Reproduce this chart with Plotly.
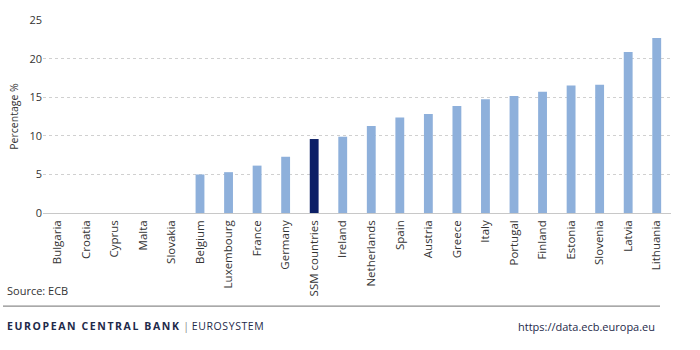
import plotly.graph_objects as go

categories = ["Bulgaria", "Croatia", "Cyprus", "Malta", "Slovakia", "Belgium",
              "Luxembourg", "France", "Germany", "SSM countries", "Ireland",
              "Netherlands", "Spain", "Austria", "Greece", "Italy", "Portugal",
              "Finland", "Estonia", "Slovenia", "Latvia", "Lithuania"]
values = [0, 0, 0, 0, 0, 5.0, 5.3, 6.15, 7.3, 9.6, 9.9,
          11.3, 12.4, 12.85, 13.9, 14.75, 15.2, 15.75, 16.55, 16.65, 20.9, 22.7]
highlight = "SSM countries"

colors = ["#0c1f66" if c == highlight else "#8eb0db" for c in categories]

fig = go.Figure()
fig.add_trace(go.Bar(x=categories, y=values, marker=dict(color=colors, line=dict(width=0)),
                     showlegend=False))

font = "Open Sans, Noto Sans, sans-serif"
fig.update_layout(
    width=700, height=350,
    margin=dict(l=43, r=29, t=14, b=137),
    paper_bgcolor="white", plot_bgcolor="white",
    bargap=0.69,
    font=dict(family=font, size=10, color="#333333"),
    xaxis=dict(tickangle=-90, showgrid=False, showline=False, ticks="",
               tickfont=dict(size=11.5, color="#333333"), ticklabelstandoff=4),
    yaxis=dict(range=[0, 25.05], tickvals=[0, 5, 10, 15, 20, 25], showgrid=True,
               gridcolor="#d0d0d0", griddash="dot", gridwidth=1,
               zeroline=True, zerolinecolor="#c8c8c8", zerolinewidth=1,
               showline=False, ticks="", tickfont=dict(size=11, color="#333333"),
               title=dict(text="Percentage %", font=dict(size=10.5, color="#333333"), standoff=8)),
)

def px(x):
    return (x - 43) / 628

def py(y):
    return (213 - y) / 199

fig.add_annotation(x=px(5), y=py(293), xref="paper", yref="paper", text="Source: ECB",
                   showarrow=False, xanchor="left", yanchor="middle",
                   font=dict(size=11, color="#333333"))
fig.add_shape(type="line", xref="paper", yref="paper", x0=px(3), x1=px(660),
              y0=py(309), y1=py(309), line=dict(color="#707070", width=1))
fig.add_annotation(x=px(5), y=py(330), xref="paper", yref="paper",
                   text="<b><span style='letter-spacing:1.6px'>EUROPEAN CENTRAL BANK</span></b>"
                        "<span style='color:#888888'> | </span>"
                        "<span style='letter-spacing:0.6px'>EUROSYSTEM</span>",
                   showarrow=False, xanchor="left", yanchor="middle",
                   font=dict(size=10.5, color="#1e2a4a"))
fig.add_annotation(x=px(657), y=py(330), xref="paper", yref="paper",
                   text="https://data.ecb.europa.eu",
                   showarrow=False, xanchor="right", yanchor="middle",
                   font=dict(size=11, color="#1e2a4a"))

fig.write_html("out.html")
